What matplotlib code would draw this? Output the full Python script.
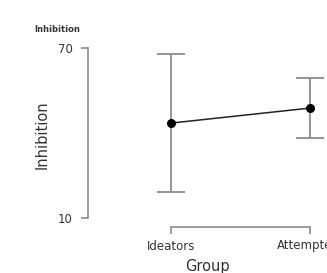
import matplotlib
matplotlib.use("Agg")
import matplotlib.pyplot as plt

groups = ["Ideators", "Attempters"]
means = [43.5, 48.8]
errors = [24.5, 10.7]
yticks = [10, 70]

fig = plt.figure(figsize=(3.27, 2.73), dpi=100)
ax = fig.add_axes([88/327, 1-227/273, 1-88/327, (227-42)/273])
x = list(range(len(groups)))
ax.errorbar(x, means, yerr=errors, fmt='none', ecolor='#8c8c8c', elinewidth=1.3,
            capsize=10, capthick=1.3, zorder=1)
ax.plot(x, means, color='#222222', lw=1.1, zorder=2)
ax.plot(x, means, 'o', color='black', ms=5.5, zorder=3)

ax.set_xlim(-(171-88)/139, 1 + 17/139)
ax.set_ylim(10 - 9/2.833, 70 + 6/2.833)
ax.set_xticks(x)
ax.set_xticklabels(groups)
ax.set_yticks(yticks)
for s in ['top', 'right']:
    ax.spines[s].set_visible(False)
ax.spines['left'].set_bounds(10, 70)
ax.spines['bottom'].set_bounds(0, 1)
for s in ['left', 'bottom']:
    ax.spines[s].set_color('#8c8c8c')
    ax.spines[s].set_linewidth(1.2)
ax.tick_params(colors='#8c8c8c', width=1.2, length=5, labelsize=8.5, labelcolor='#333333')
ax.tick_params(axis='x', pad=4)
ax.tick_params(axis='y', pad=6)
ax.set_xlabel("Group", fontsize=10.5, color='#333333', labelpad=5)
ax.set_ylabel("Inhibition", fontsize=10.5, color='#333333', labelpad=6)
fig.text(34/327, 1-29/273, "Inhibition", fontsize=6, fontweight='bold', color='#333333',
         ha='left', va='center')
fig.savefig("out.png", dpi=100)
